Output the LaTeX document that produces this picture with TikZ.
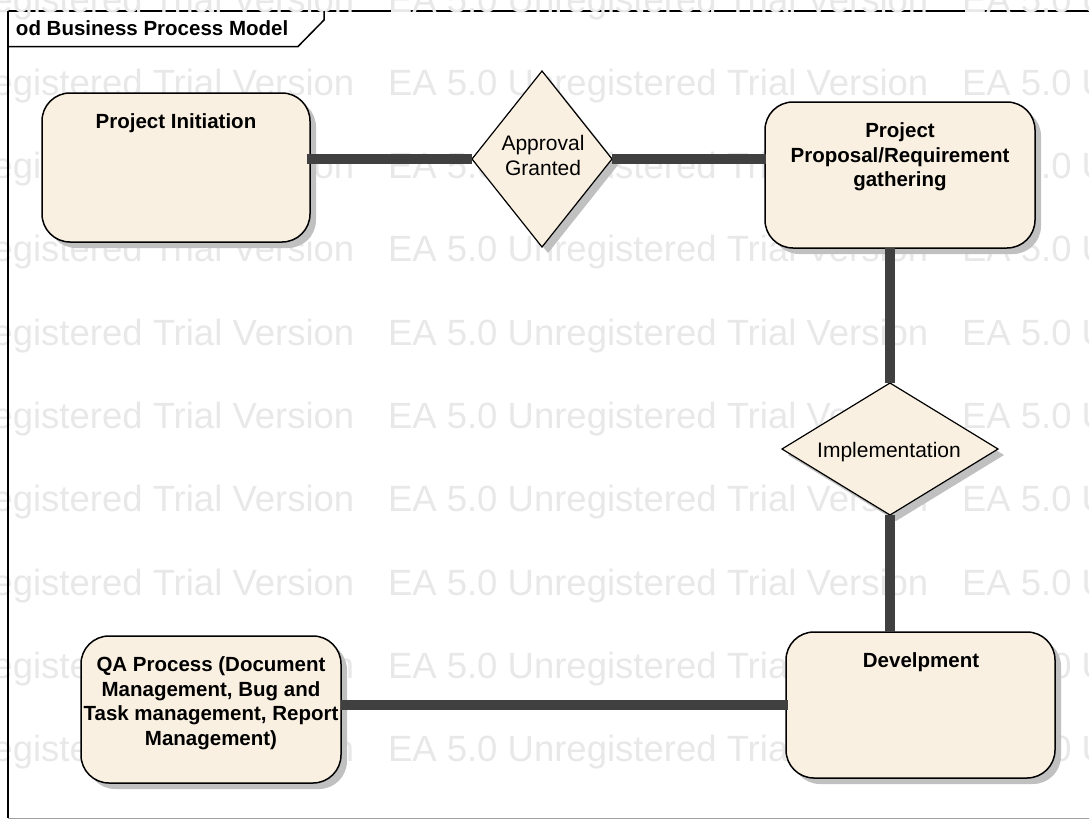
\documentclass[tikz,border=0pt]{standalone}
\usepackage{fontspec}
\setmainfont{Liberation Sans}
\usetikzlibrary{shapes.geometric,shadows}
\definecolor{procfill}{RGB}{250,240,225}
\definecolor{connclr}{RGB}{64,64,64}
\definecolor{wmclr}{RGB}{232,232,232}
\definecolor{shadowclr}{RGB}{192,192,192}
\definecolor{baseclr}{RGB}{160,160,160}

\begin{document}
\begin{tikzpicture}[x=1pt,y=-1pt,
  every node/.style={inner sep=0pt, outer sep=0pt},
  flatshadow/.style={drop shadow={shadow xshift=6pt, shadow yshift=-6pt, fill=shadowclr, opacity=1}},
  procbox/.style={draw=black, line width=1.5pt, fill=procfill, rounded corners=28pt, flatshadow},
  decision/.style={diamond, draw=black, line width=1.2pt, fill=procfill, flatshadow},
  decisiontext/.style={align=center, font=\fontsize{21}{25}\selectfont},
  boxtext/.style={anchor=north, align=center, font=\fontsize{20.5}{24.5}\selectfont\bfseries},
  wmtext/.style={anchor=base west, text=wmclr, font=\fontsize{36.5}{40}\selectfont},
  conn/.style={draw=connclr, line width=10pt},
  frameline/.style={draw=black, line width=1.5pt}
]
\useasboundingbox (0,0) rectangle (1089,820);

% diagram frame: top edge sits under the repeated background text
\draw[frameline] (8,11) -- (1089,11);

% repeated background text
\begin{scope}
  \clip (0,0) rectangle (1089,820);
  \foreach \r in {0,...,9} {
    \foreach \c in {0,1,2} {
      \node[wmtext] (wm-\r-\c) at ({-186+574*\c},{12+83.33*\r}) {EA 5.0 Unregistered Trial Version};
    }
  }
\end{scope}

% remaining frame edges and the name tab
\draw[frameline] (8,11) -- (8,818);
\draw[draw=baseclr, line width=1pt] (8,818) -- (1089,818);
\draw[frameline] (8,46.5) -- (298,46.5) -- (324,20) -- (324,11);
\node[anchor=base west, font=\fontsize{20.5}{24}\selectfont\bfseries] (title) at (16,35) {od Business Process Model};

% process steps
\node[procbox, minimum width=268pt, minimum height=149pt] (init) at (176,167.5) {};
\node[boxtext] (initT) at (176,114) {Project Initiation};

\node[decision, minimum width=140pt, minimum height=176pt] (appr) at (542,159) {};
\node[decisiontext] (apprT) at (543,155) {Approval\\Granted};

\node[procbox, minimum width=270pt, minimum height=146pt] (prop) at (900,175) {};
\node[boxtext] (propT) at (900,123) {Project\\Proposal/Requirement\\gathering};

\node[decision, minimum width=216pt, minimum height=132pt] (impl) at (890,449) {};
\node[decisiontext, anchor=base] (implT) at (889,457) {Implementation};

\node[procbox, minimum width=269pt, minimum height=146pt] (dev) at (920.5,705) {};
\node[boxtext] (devT) at (921,653) {Develpment};

\node[procbox, minimum width=260pt, minimum height=147pt] (qa) at (211,709.5) {};
\node[boxtext] (qaT) at (211,657) {QA Process (Document\\Management, Bug and\\Task management, Report\\Management)};

% connectors
\draw[conn] ([xshift=-3pt]init.east |- appr.west) -- (appr.west);
\draw[conn] (appr.east) -- ([xshift=1pt]prop.west |- appr.east);
\draw[conn] (impl.north |- prop.south) -- (impl.north);
\draw[conn] (impl.south) -- (impl.south |- dev.north);
\draw[conn] (qa.east |- dev.west) -- ([xshift=2pt]dev.west);
\end{tikzpicture}
\end{document}
